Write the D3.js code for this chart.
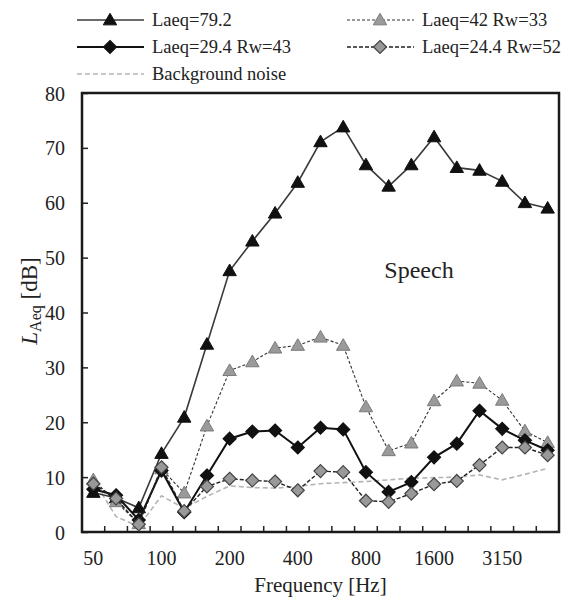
<!DOCTYPE html>
<html><head><meta charset="utf-8">
<script src="https://cdn.jsdelivr.net/npm/d3@7"></script>
<style>
html,body{margin:0;padding:0;background:#fff;}
</style></head>
<body><svg id="c" width="571" height="602"></svg>
<script>
const freqs = ["50","63","80","100","125","160","200","250","315","400","500","630","800","1000","1250","1600","2000","2500","3150","4000","5000"];
const freqTickLabels = ["50","100","200","400","800","1600","3150"];
const yTicks = [0,10,20,30,40,50,60,70,80];
const seriesNames = ["Laeq=79.2","Laeq=42 Rw=33","Laeq=29.4 Rw=43","Laeq=24.4 Rw=52","Background noise"];
const speech79 = [7.2,6.2,4.4,14.3,20.9,34.2,47.6,53.0,58.1,63.7,71.1,73.8,66.9,63.0,66.9,72.0,66.4,65.9,63.9,60.0,59.0];
const rw33 = [9.5,5.5,1.5,11.5,7.1,19.3,29.4,31.0,33.5,34.0,35.5,34.0,22.8,14.8,16.2,23.9,27.5,27.1,24.0,18.4,16.3];
const rw43 = [7.8,6.7,2.2,11.2,3.6,10.3,17.0,18.3,18.5,15.4,19.0,18.7,10.9,7.3,9.1,13.6,16.1,22.1,18.8,16.7,14.9];
const rw52 = [8.8,6.1,1.4,11.8,3.8,8.3,9.7,9.4,9.2,7.6,11.1,10.9,5.7,5.5,7.0,8.7,9.3,12.2,15.4,15.4,14.0];
const background = [9.5,2.8,1.0,6.6,4.3,6.5,8.4,8.1,8.0,8.3,8.8,9.0,9.2,9.5,9.8,9.9,10.0,10.4,9.5,10.5,11.6];

const FONT = "Liberation Serif";
const svg = d3.select("#c").attr("font-family", FONT);
const L = 82, R = 559, T = 93, B = 532;
const x = d3.scaleBand().domain(freqs).range([L, R]).paddingInner(0).paddingOuter(0);
const cx = f => x(f) + x.bandwidth()/2;
const y = d3.scaleLinear().domain([0,80]).range([B, T]);

// Y axis (ticks inside)
const yAxis = d3.axisLeft(y).tickValues(yTicks).tickSize(-6).tickPadding(17).tickFormat(d3.format("d"));
const gy = svg.append("g").attr("transform", `translate(${L},0)`).call(yAxis).attr("font-family", FONT);
gy.select(".domain").remove();
gy.selectAll(".tick line").attr("stroke","#222").attr("stroke-width",1.5);
gy.selectAll(".tick text").attr("font-size","20px").attr("fill","#222").attr("font-family",FONT).attr("dy","0.35em");

// X axis: ticks at band boundaries (inner), labels at selected band centres
const bounds = freqs.slice(1).map(f => x(f));
svg.append("g").selectAll("line").data(bounds).join("line")
  .attr("x1", d => d).attr("x2", d => d).attr("y1", B).attr("y2", B-6)
  .attr("stroke","#222").attr("stroke-width",1.5);
svg.append("g").selectAll("text").data(freqTickLabels).join("text")
  .attr("x", d => cx(d)).attr("y", 565).attr("text-anchor","middle").attr("font-family",FONT)
  .attr("font-size","20px").attr("fill","#222").text(d => d);

// Frame
svg.append("rect").attr("x", L).attr("y", T).attr("width", R-L).attr("height", B-T)
  .attr("fill","none").attr("stroke","#1a1a1a").attr("stroke-width",2.5);

// Titles
svg.append("text").attr("x", (L+R)/2).attr("y", 592).attr("text-anchor","middle").attr("font-family",FONT)
  .attr("font-size","21px").attr("fill","#222").text("Frequency [Hz]");
const yt = svg.append("text").attr("transform","translate(37,301) rotate(-90)").attr("font-family",FONT)
  .attr("text-anchor","middle").attr("font-size","23px").attr("fill","#222");
yt.append("tspan").attr("font-style","italic").text("L");
yt.append("tspan").attr("font-size","16px").attr("dy","4").text("Aeq");
yt.append("tspan").attr("dy","-4").text(" [dB]");

svg.append("text").attr("x", 419).attr("y", 278).attr("text-anchor","middle").attr("font-family",FONT)
  .attr("font-size","24px").attr("fill","#222").text("Speech");

// Markers
const tri = d3.symbol().type(d3.symbolTriangle).size(78);
const diamondPath = (s) => `M0,${-s}L${s},0L0,${s}L${-s},0Z`;

const series = [
  {vals: background, line:"#b4b4b4", w:1.6, dash:"5,3", marker:null},
  {vals: speech79, line:"#3a3a3a", w:1.6, dash:null, marker:"tri", fill:"#111", stroke:"#111"},
  {vals: rw33, line:"#333", w:1.1, dash:"3,2", marker:"tri", fill:"#9a9a9a", stroke:"#7a7a7a"},
  {vals: rw43, line:"#111", w:2, dash:null, marker:"dia", fill:"#111", stroke:"#111"},
  {vals: rw52, line:"#222", w:1.4, dash:"4,2", marker:"dia", fill:"#999", stroke:"#444"},
];
const lineGen = d3.line().x((d,i) => cx(freqs[i])).y(d => y(d));

function drawMarker(g, s, px, py) {
  if (s.marker === "tri") {
    g.append("path").attr("d", tri()).attr("transform", `translate(${px},${py+1})`)
      .attr("fill", s.fill).attr("stroke", s.stroke).attr("stroke-width",1);
  } else if (s.marker === "dia") {
    g.append("path").attr("d", diamondPath(6.5)).attr("transform", `translate(${px},${py})`)
      .attr("fill", s.fill).attr("stroke", s.stroke).attr("stroke-width",1.2);
  }
}

series.forEach(s => {
  const g = svg.append("g");
  const p = g.append("path").datum(s.vals).attr("d", lineGen)
    .attr("fill","none").attr("stroke", s.line).attr("stroke-width", s.w);
  if (s.dash) p.attr("stroke-dasharray", s.dash);
  if (s.marker) s.vals.forEach((v,i) => drawMarker(g, s, cx(freqs[i]), y(v)));
});

// Legend
const legendItems = [
  {name: seriesNames[0], s: series[1], lx: 77, ly: 20},
  {name: seriesNames[1], s: series[2], lx: 347, ly: 20},
  {name: seriesNames[2], s: series[3], lx: 77, ly: 47},
  {name: seriesNames[3], s: series[4], lx: 347, ly: 47},
  {name: seriesNames[4], s: series[0], lx: 77, ly: 74},
];
legendItems.forEach(it => {
  const g = svg.append("g");
  const ln = g.append("line").attr("x1", it.lx).attr("x2", it.lx+67).attr("y1", it.ly).attr("y2", it.ly)
    .attr("stroke", it.s.line).attr("stroke-width", it.s.w);
  if (it.s.dash) ln.attr("stroke-dasharray", it.s.dash);
  drawMarker(g, it.s, it.lx+33, it.ly);
  g.append("text").attr("x", it.lx+75).attr("y", it.ly).attr("dy","0.33em").attr("font-family",FONT)
    .attr("font-size","18.5px").attr("fill","#222").text(it.name);
});
</script></body></html>
